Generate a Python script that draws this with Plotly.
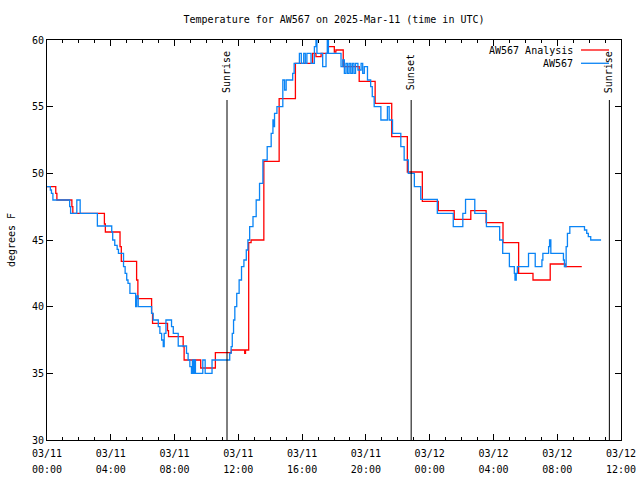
import plotly.graph_objects as go
import pandas as pd

BASE = pd.Timestamp("2025-03-11 00:00")

# Hourly analysis (hours since 03/11 00:00 UTC, degrees F)
analysis_hours = [0.0, 0.55, 0.62, 1.56, 1.62, 3.6, 3.66, 4.58, 4.66, 5.62, 5.7, 6.56, 6.62,
                  7.56, 7.62, 8.54, 8.6, 9.64, 10.56, 11.56, 12.4, 12.45, 12.65, 12.8, 13.6,
                  14.56, 15.58, 16.66, 16.87, 17.19, 17.6, 18.02, 18.12, 18.58, 19.58, 20.58,
                  21.62, 22.6, 23.54, 24.54, 25.54, 26.58, 27.54, 28.6, 29.58, 30.48, 31.56,
                  32.5, 33.54]
analysis_temps = [49.0, 48.5, 48.0, 47.5, 47.0, 46.2, 45.6, 44.5, 43.4, 42.0, 40.6, 39.5, 38.75,
                  38.2, 37.75, 37.0, 36.0, 35.4, 36.55, 36.75, 36.5, 36.75, 44.8, 45.0, 50.9,
                  55.6, 58.25, 59.0, 58.75, 59.0, 59.5, 59.1, 59.25, 58.0, 56.9, 55.25,
                  52.75, 50.1, 47.9, 47.2, 46.55, 47.2, 46.3, 44.8, 42.5, 42.0, 43.2,
                  43.0, 43.0]

# Station observations
obs_hours = [0.0, 0.21, 0.28, 0.37, 1.42, 1.48, 1.87, 2.08, 3.16, 4.06, 4.12, 4.25, 4.4, 4.48,
             4.8, 4.9, 5.0, 5.08, 5.2, 5.56, 5.62, 5.72, 6.56, 6.66, 6.98, 7.08, 7.19, 7.29,
             7.35, 7.46, 7.81, 7.92, 8.23, 8.75, 8.85, 8.96, 9.06, 9.12, 9.19, 9.25, 9.31,
             9.77, 9.92, 10.35, 11.46, 11.55, 11.62, 11.7, 11.78, 11.9, 12.05, 12.2, 12.35,
             12.5, 12.6, 12.71, 12.92, 13.12, 13.33, 13.54, 13.81, 14.06, 14.17, 14.22,
             14.27, 14.42, 14.79, 14.9, 15.0, 15.41, 15.5, 15.83, 15.95, 16.1, 16.2, 16.3,
             16.56, 16.77, 16.87, 16.93, 17.29, 17.5, 17.58, 17.65, 18.44, 18.55, 18.65,
             18.75, 18.85, 18.95, 19.05, 19.15, 19.25, 19.35, 19.5, 19.7, 19.8, 19.9, 20.1,
             20.3, 20.4, 20.52, 20.94, 21.35, 21.46, 21.67, 22.19, 22.4, 22.66, 23.04, 23.44,
             24.48, 25.48, 26.08, 26.25, 26.83, 27.56, 28.39, 28.58, 29.0, 29.31, 29.35,
             29.43, 29.5, 30.2, 30.62, 31.04, 31.1, 31.46, 31.52, 31.6, 32.39, 32.45, 32.56,
             32.64, 32.79, 33.71, 33.85, 33.95, 34.1, 34.75]
obs_temps = [49.0, 48.75, 48.5, 48.0, 47.5, 47.0, 48.0, 47.0, 46.05, 45.6, 45.0, 44.6, 44.3, 44.0,
             43.0, 42.5, 42.0, 41.75, 41.0, 40.0, 40.8, 40.0, 39.5, 39.0, 38.5, 38.0, 37.5, 37.0,
             38.0, 39.0, 38.5, 38.0, 37.05, 36.5, 36.0, 35.5, 35.0, 36.0, 35.0, 36.0, 35.0,
             36.0, 35.0, 36.0, 36.5, 37.0, 38.0, 39.0, 40.0, 41.0, 42.0, 43.0, 43.5,
             44.25, 45.0, 46.0, 46.75, 48.0, 49.25, 51.0, 52.0, 53.0, 54.0, 53.5,
             54.5, 55.0, 57.0, 56.25, 57.0, 57.5, 58.25, 59.0, 58.25, 59.0, 58.25, 59.0,
             58.25, 59.5, 60.0, 59.0, 58.0, 59.0, 60.0, 59.0, 58.0, 58.5, 57.5,
             58.25, 57.5, 58.25, 57.5, 58.25, 57.5, 58.25, 57.75, 58.25, 57.5, 58.0, 57.0,
             56.5, 55.75, 55.0, 54.0, 55.0, 54.0, 53.0, 52.0, 51.0, 50.0, 49.0, 48.05,
             47.0, 46.0, 47.0, 48.05, 47.0, 46.0, 45.0, 44.0, 43.0, 42.5, 42.0,
             42.5, 43.0, 44.0, 43.0, 43.5, 44.0, 44.5, 45.0, 44.0, 43.5, 43.0, 44.5,
             45.5, 46.0, 45.75, 45.5, 45.25, 45.0, 45.0]

event_hours = [11.29, 22.84, 35.27]
event_labels = ["Sunrise", "Sunset", "Sunrise"]

series_names = ["AW567 Analysis", "AW567"]
series_colors = ["#ff0000", "#0a84f5"]

FONT = dict(family="DejaVu Sans Mono", size=10, color="black")


def to_time(hours):
    return [BASE + pd.Timedelta(hours=h) for h in hours]


fig = go.Figure()
fig.add_trace(go.Scatter(x=to_time(analysis_hours), y=analysis_temps, mode="lines",
                         line=dict(color=series_colors[0], width=1.3, shape="hv"),
                         name=series_names[0], showlegend=False))
fig.add_trace(go.Scatter(x=to_time(obs_hours), y=obs_temps, mode="lines",
                         line=dict(color=series_colors[1], width=1.3, shape="hv"),
                         name=series_names[1], showlegend=False))

shapes = []
annotations = []
for t, lab in zip(to_time(event_hours), event_labels):
    shapes.append(dict(type="line", xref="x", yref="paper", x0=t, x1=t, y0=0, y1=0.85,
                       line=dict(color="black", width=1)))
    annotations.append(dict(x=t, y=0.92, xref="x", yref="paper", text=lab, textangle=-90,
                            showarrow=False, xanchor="center", yanchor="middle", font=FONT))

# gnuplot-style key: text right-aligned, sample line to its right
key_rows = [0.975, 0.9418]
for name, col, yk in zip(series_names, series_colors, key_rows):
    annotations.append(dict(x=0.9195, y=yk, xref="paper", yref="paper", text=name,
                            showarrow=False, xanchor="right", yanchor="middle", font=FONT))
    shapes.append(dict(type="line", xref="paper", yref="paper", x0=0.9303, x1=0.9791,
                       y0=yk, y1=yk, line=dict(color=col, width=1.3)))

fig.update_layout(
    width=640, height=480,
    margin=dict(l=47, r=19, t=40, b=40, autoexpand=False),
    paper_bgcolor="white", plot_bgcolor="white",
    font=FONT,
    title=dict(text="Temperature for AW567 on 2025-Mar-11 (time in UTC)", font=FONT,
               x=0.5, xref="paper", xanchor="center", y=1 - 19 / 480, yref="container",
               yanchor="middle"),
    shapes=shapes, annotations=annotations,
    showlegend=False,
)
fig.update_xaxes(
    type="date", range=[BASE, BASE + pd.Timedelta(hours=36)],
    tick0=BASE, dtick=4 * 3600 * 1000,
    tickformat="<span style='font-size:10px'>%m/%d</span><br><span style='font-size:10px'>%H:%M</span>",
    ticks="inside", ticklen=6, tickcolor="black", mirror="allticks",
    showline=True, linecolor="black", linewidth=1, showgrid=False, zeroline=False,
    minor=dict(dtick=3600 * 1000, ticks="inside", ticklen=3, tickcolor="black", showgrid=False),
    tickfont=dict(family="DejaVu Sans Mono", size=12.3, color="black"),
    ticklabelstandoff=1, automargin=False,
)
fig.update_yaxes(
    range=[30, 60], dtick=5, ticks="inside", ticklen=6, tickcolor="black", mirror="allticks",
    showline=True, linecolor="black", linewidth=1, showgrid=False, zeroline=False,
    title=dict(text="degrees F", font=FONT, standoff=14), tickfont=FONT, automargin=False,
)

fig.write_html("out.html", config={"displayModeBar": False},
               post_script="document.body.style.margin='0px';")
